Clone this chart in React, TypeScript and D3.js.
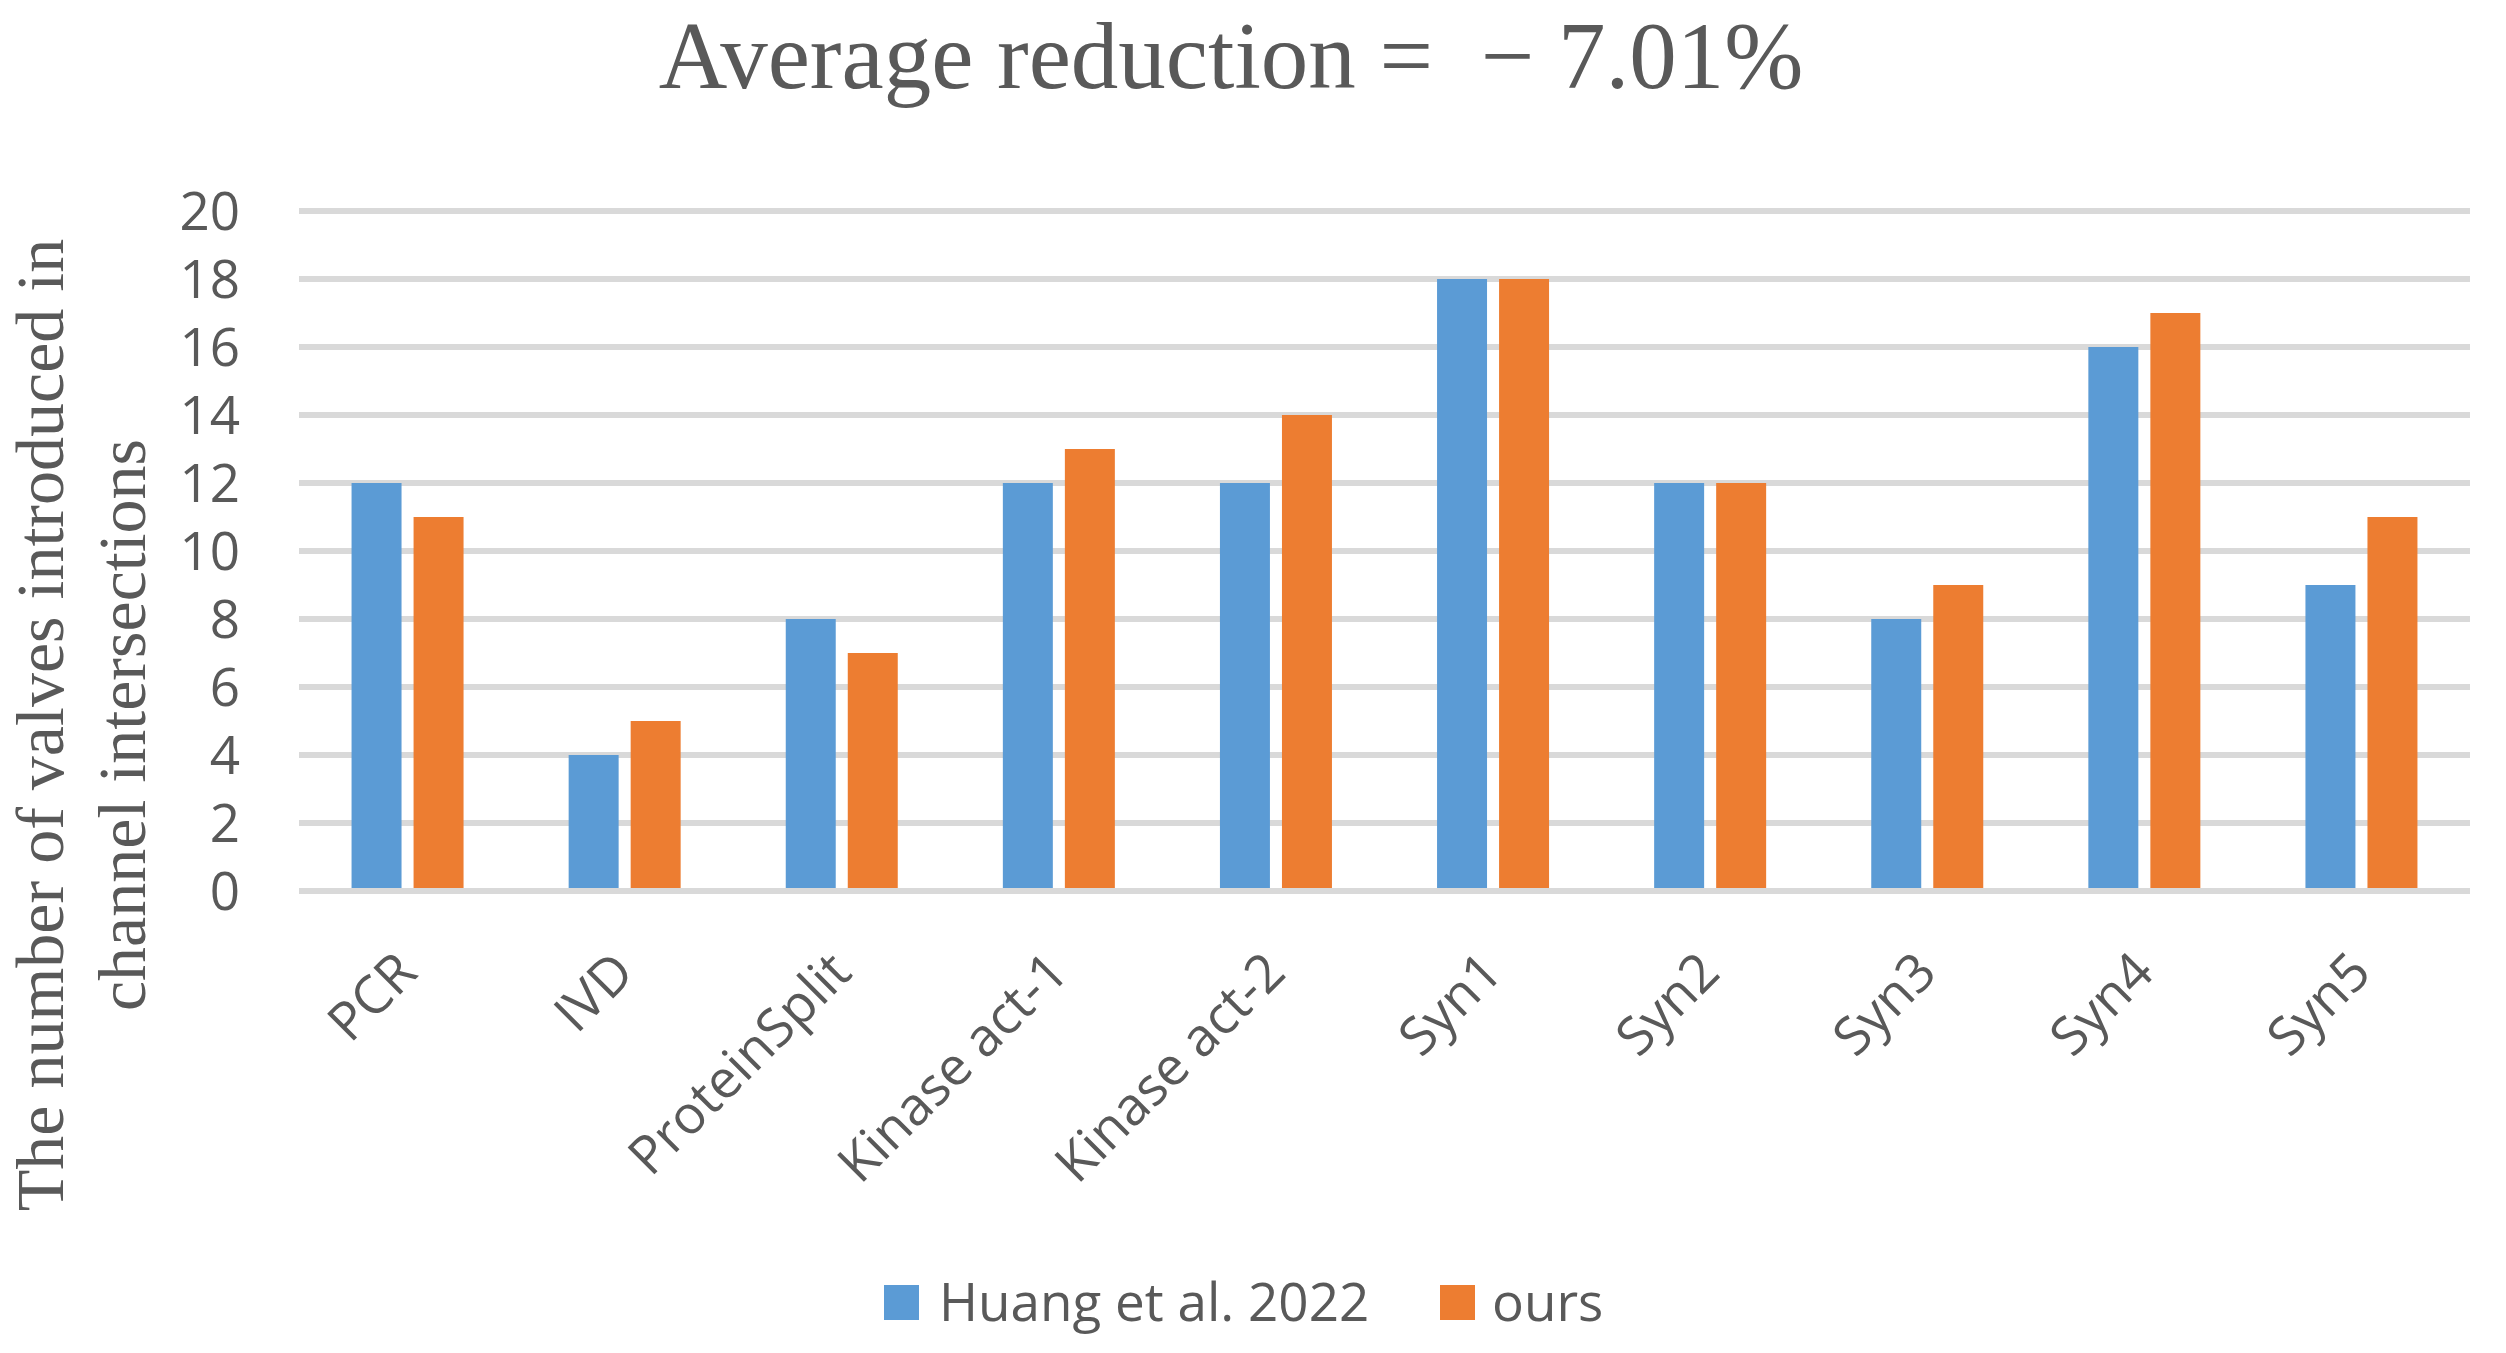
import React from "react";
import * as d3 from "d3";

const categories = ["PCR", "IVD", "ProteinSplit", "Kinase act-1", "Kinase act-2", "Syn1", "Syn2", "Syn3", "Syn4", "Syn5"];
const huangValues = [12, 4, 8, 12, 12, 18, 12, 8, 16, 9];
const oursValues = [11, 5, 7, 13, 14, 18, 12, 9, 17, 11];
const seriesNames = ["Huang et al. 2022", "ours"];
const seriesColors = ["#5B9BD5", "#ED7D31"];
const yTicks = [0, 2, 4, 6, 8, 10, 12, 14, 16, 18, 20];
const titleText = "Average reduction =  \u2212 7.01%";
const yTitleLines = ["The number of valves introduced in", "channel intersections"];

const W = 2506;
const H = 1353;
const TEXT = "#595959";
const SANS = "'Open Sans', 'Noto Sans', sans-serif";
const SERIF = "'Liberation Serif', 'Times New Roman', serif";

export default function App() {
  const plotLeft = 299;
  const plotRight = 2470;
  const plotTop = 211;
  const plotBottom = 891;

  const x = d3.scaleBand<string>().domain(categories).range([plotLeft, plotRight]).padding(0);
  const y = d3.scaleLinear().domain([0, 20]).range([plotBottom, plotTop]);
  const groupHalf = 56;
  const x1 = d3
    .scaleBand<string>()
    .domain(seriesNames)
    .range([-groupHalf, groupHalf])
    .paddingInner(0.194)
    .paddingOuter(0);

  const seriesData = [huangValues, oursValues];

  return (
    <svg
      width={W}
      height={H}
      viewBox={`0 0 ${W} ${H}`}
      style={{ position: "absolute", left: 0, top: 0, background: "#fff" }}
    >
      <rect x={0} y={0} width={W} height={H} fill="#fff" />
      {/* Title */}
      <text
        x={1231}
        y={88}
        textAnchor="middle"
        fontFamily={SERIF}
        fontSize={95}
        fill={TEXT}
        style={{ whiteSpace: "pre" }}
      >
        {titleText}
      </text>

      {/* Gridlines */}
      {yTicks.map((t) => (
        <line
          key={t}
          x1={plotLeft}
          x2={plotRight}
          y1={y(t)}
          y2={y(t)}
          stroke="#D9D9D9"
          strokeWidth={6}
        />
      ))}

      {/* Bars */}
      {categories.map((c, i) => {
        const cx = (x(c) as number) + x.bandwidth() / 2;
        return (
          <g key={"b" + c}>
            {seriesNames.map((s, si) => {
              const v = seriesData[si][i];
              return (
                <rect
                  key={s}
                  x={cx + (x1(s) as number)}
                  y={y(v)}
                  width={x1.bandwidth()}
                  height={plotBottom - 3 - y(v)}
                  fill={seriesColors[si]}
                />
              );
            })}
          </g>
        );
      })}

      {/* Y tick labels */}
      {yTicks.map((t) => (
        <text
          key={"yl" + t}
          x={240}
          y={y(t)}
          dy="0.35em"
          textAnchor="end"
          fontFamily={SANS}
          fontSize={53}
          fill={TEXT}
        >
          {t}
        </text>
      ))}

      {/* X labels */}
      {categories.map((c) => {
        const cx = (x(c) as number) + x.bandwidth() / 2;
        return (
          <text
            key={"xl" + c}
            transform={`translate(${cx + 12},${975}) rotate(-45)`}
            textAnchor="end"
            fontFamily={SANS}
            fontSize={53}
            fill={TEXT}
          >
            {c}
          </text>
        );
      })}

      {/* Y axis title */}
      <text
        transform={`translate(63,725) rotate(-90)`}
        textAnchor="middle"
        fontFamily={SERIF}
        fontSize={68}
        fill={TEXT}
      >
        {yTitleLines[0]}
      </text>
      <text
        transform={`translate(145,725) rotate(-90)`}
        textAnchor="middle"
        fontFamily={SERIF}
        fontSize={68}
        fill={TEXT}
      >
        {yTitleLines[1]}
      </text>

      {/* Legend */}
      <rect x={884} y={1285} width={35} height={35} fill={seriesColors[0]} />
      <text x={939} y={1321} fontFamily={SANS} fontSize={53} fill={TEXT}>
        {seriesNames[0]}
      </text>
      <rect x={1440} y={1285} width={35} height={35} fill={seriesColors[1]} />
      <text x={1492} y={1321} fontFamily={SANS} fontSize={53} fill={TEXT}>
        {seriesNames[1]}
      </text>
    </svg>
  );
}
